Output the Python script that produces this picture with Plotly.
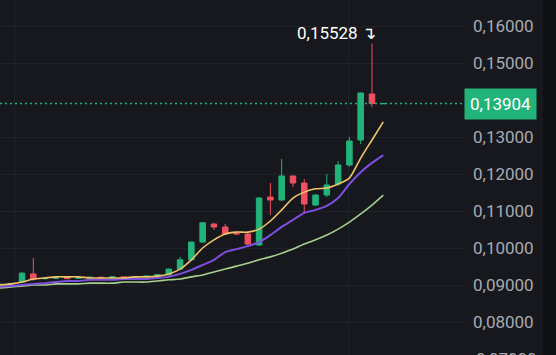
import plotly.graph_objects as go

# ---- data ----
bar_index = list(range(-2, 33))

open_ = [0.0901, 0.0902, 0.0908, 0.0930, 0.0917, 0.0918, 0.0921, 0.0918, 0.0920, 0.0921,
         0.0920, 0.0922, 0.0920, 0.0922, 0.0924, 0.0927, 0.0943, 0.0968, 0.1016, 0.10649,
         0.10568, 0.1040, 0.10378, 0.10081, 0.11378, 0.11297, 0.11946, 0.11757, 0.11162, 0.11432,
         0.11730, 0.12243, 0.12919, 0.14162, 0.13900]
high = [0.0903, 0.0905, 0.0935, 0.0973, 0.0920, 0.0921, 0.0922, 0.0921, 0.0922, 0.0923,
        0.0923, 0.0923, 0.0923, 0.0925, 0.0929, 0.0945, 0.0976, 0.1017, 0.1070, 0.10676,
        0.10649, 0.1043, 0.1041, 0.11378, 0.11757, 0.12405, 0.11960, 0.11865, 0.11459, 0.12000,
        0.12351, 0.13000, 0.14200, 0.15528, 0.13912]
low = [0.0899, 0.0900, 0.0905, 0.0911, 0.0915, 0.0916, 0.0916, 0.0917, 0.0918, 0.0919,
       0.0919, 0.0919, 0.0919, 0.0921, 0.0923, 0.0926, 0.0942, 0.0967, 0.1015, 0.10486,
       0.10350, 0.1036, 0.10054, 0.10054, 0.10892, 0.11270, 0.11649, 0.10946, 0.11135, 0.11378,
       0.11680, 0.12200, 0.12811, 0.13811, 0.13898]
close = [0.0902, 0.0904, 0.0932, 0.0916, 0.0918, 0.0920, 0.0917, 0.0920, 0.0921, 0.0920,
         0.0922, 0.0920, 0.0922, 0.0924, 0.0928, 0.0943, 0.0968, 0.1016, 0.1068, 0.10568,
         0.10378, 0.1038, 0.10108, 0.11351, 0.11297, 0.11946, 0.11757, 0.11189, 0.11432, 0.11703,
         0.12243, 0.12892, 0.14189, 0.13904, 0.13904]

ma_fast = [0.0900, 0.0903, 0.0908, 0.0916, 0.0919, 0.0922, 0.0922, 0.0922, 0.0919, 0.0919,
           0.0919, 0.0919, 0.0922, 0.0922, 0.0924, 0.0930, 0.0943, 0.0968, 0.1000, 0.1022,
           0.1038, 0.1043, 0.1043, 0.1051, 0.1073, 0.1103, 0.1135, 0.1151, 0.1160, 0.1162,
           0.1173, 0.1189, 0.1243, 0.1292, 0.1341]
ma_mid = [0.0895, 0.0897, 0.0900, 0.0903, 0.0905, 0.0908, 0.0911, 0.0911, 0.0914, 0.0914,
          0.0914, 0.0916, 0.0916, 0.0916, 0.0919, 0.0922, 0.0930, 0.0941, 0.0954, 0.0968,
          0.0989, 0.0997, 0.1005, 0.1016, 0.1035, 0.1057, 0.1076, 0.1095, 0.1103, 0.1114,
          0.1135, 0.1173, 0.1205, 0.1230, 0.1251]
ma_slow = [0.0892, 0.0895, 0.0897, 0.0900, 0.0900, 0.0903, 0.0903, 0.0903, 0.0905, 0.0905,
           0.0905, 0.0908, 0.0908, 0.0908, 0.0911, 0.0914, 0.0916, 0.0922, 0.0927, 0.0935,
           0.0943, 0.0951, 0.0959, 0.0968, 0.0976, 0.0986, 0.0997, 0.1011, 0.1022, 0.1035,
           0.1051, 0.1070, 0.1092, 0.1116, 0.1143]

last_price = 0.13904
high_label = "0,15528"
high_bar = 31
y_ticks = [0.08, 0.09, 0.10, 0.11, 0.12, 0.13, 0.15, 0.16]
cut_tick = 0.07

# ---- styles ----
BG = "#16181d"
GREEN = "#22b37a"
RED = "#ef4f60"
GRID = "#1f2228"
TICK = "#a7aab2"
FONT = "Roboto"
Y_RANGE = [0.07108, 0.16703]

fig = go.Figure()

fig.add_trace(go.Scatter(x=bar_index, y=ma_slow, mode="lines",
                         line=dict(color="#a9cf8e", width=1.6, shape="spline", smoothing=0.6),
                         hoverinfo="skip"))
fig.add_trace(go.Scatter(x=bar_index, y=ma_mid, mode="lines",
                         line=dict(color="#7d4fe0", width=2, shape="spline", smoothing=0.6),
                         hoverinfo="skip"))
fig.add_trace(go.Scatter(x=bar_index, y=ma_fast, mode="lines",
                         line=dict(color="#f2c46a", width=1.6, shape="spline", smoothing=0.6),
                         hoverinfo="skip"))

fig.add_trace(go.Candlestick(
    x=bar_index, open=open_, high=high, low=low, close=close,
    increasing=dict(line=dict(color=GREEN, width=1), fillcolor=GREEN),
    decreasing=dict(line=dict(color=RED, width=1), fillcolor=RED),
    whiskerwidth=0,
))

# last price dotted line
fig.add_shape(type="line", xref="paper", x0=0, x1=1, yref="y", y0=last_price, y1=last_price,
              line=dict(color=GREEN, width=1.5, dash="2px,3px"), layer="above")

# last price label on the axis
fig.add_annotation(xref="paper", x=1, yref="y", y=last_price, xanchor="left", yanchor="middle",
                   text=f"{last_price:.5f}".replace(".", ","), showarrow=False,
                   font=dict(family=FONT, size=17, color="white"),
                   bgcolor=GREEN, borderpad=5, xshift=0)

# high marker
fig.add_annotation(x=high_bar, y=high[high_bar + 2] + 0.0028, xref="x", yref="y",
                   text=high_label + " ↴", showarrow=False, xanchor="right", yanchor="middle",
                   xshift=6, font=dict(family=FONT, size=17, color="white"))

# cut-off bottom tick label
fig.add_annotation(xref="paper", x=1, yref="paper",
                   y=(cut_tick - Y_RANGE[0]) / (Y_RANGE[1] - Y_RANGE[0]),
                   xanchor="left", yanchor="middle",
                   text=f"{cut_tick:.5f}".replace(".", ","), showarrow=False, xshift=10,
                   font=dict(family=FONT, size=17, color=TICK))

# darker strip at the far right
fig.add_shape(type="rect", xref="paper", x0=543 / 464, x1=1.3, yref="paper", y0=-0.1, y1=1.1,
              fillcolor="#0f1013", line=dict(width=0), layer="below")

fig.update_layout(
    width=556, height=355,
    margin=dict(l=0, r=92, t=0, b=0),
    paper_bgcolor=BG, plot_bgcolor=BG,
    showlegend=False,
    separators=",.",
    xaxis=dict(range=[-1.95, 39.15], rangeslider=dict(visible=False), showticklabels=False,
               tickvals=[-0.7, 28.96], showgrid=True, gridcolor=GRID, gridwidth=1,
               zeroline=False, showline=False, ticks=""),
    yaxis=dict(side="right", range=Y_RANGE, tickvals=y_ticks, tickformat=".5f",
               showgrid=True, gridcolor=GRID, gridwidth=1, zeroline=False, showline=False,
               ticks="", ticklabelstandoff=8,
               tickfont=dict(family=FONT, size=17, color=TICK)),
)

fig.write_html("out.html")
